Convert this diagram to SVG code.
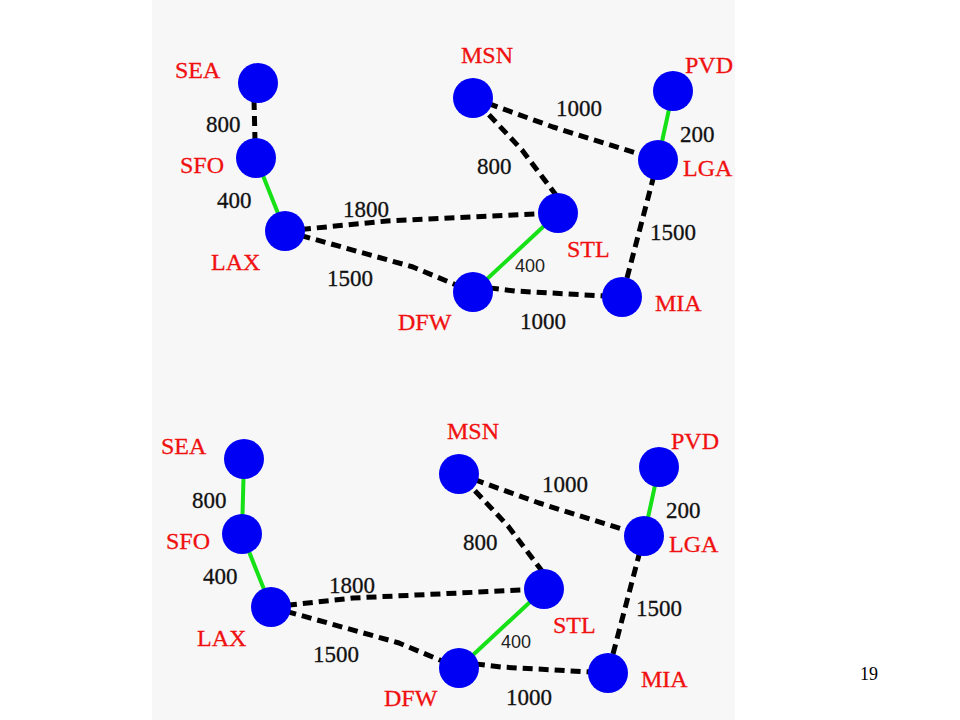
<svg xmlns="http://www.w3.org/2000/svg" width="960" height="720" viewBox="0 0 960 720">
<style>
.dash{fill:none;stroke:#000;stroke-width:5;stroke-dasharray:10 6;stroke-linejoin:round}
.tree{fill:none;stroke:#16e016;stroke-width:4}
.node{fill:#0000f5}
.city{font-family:"Liberation Serif",serif;font-size:24px;fill:#f01010;stroke:#f01010;stroke-width:0.3}
.w{font-family:"Liberation Serif",serif;font-size:23px;fill:#111;stroke:#111;stroke-width:0.3}
.ws{font-family:"Liberation Sans",sans-serif;font-size:18px;fill:#222}
.pg{font-family:"Liberation Serif",serif;font-size:18px;fill:#000}
</style>
<rect x="0" y="0" width="960" height="720" fill="#ffffff"/>
<rect x="152" y="0" width="583" height="720" fill="#f7f7f7"/>

<!-- Top graph -->
<g id="graph1">
<g id="edges1">
<path class="dash" d="M254,100 L255,140"/>
<path class="tree" d="M256,158 L285,231"/>
<path class="dash" d="M285,231 L387,221 L558,213"/>
<path class="dash" d="M285,231 L413,267 L473,292"/>
<path class="dash" d="M473,98 L553,127 L658,160"/>
<path class="dash" d="M478,103 L522,150 L556,195"/>
<path class="tree" d="M673,91 L658,160"/>
<path class="dash" d="M658,160 L622,297"/>
<path class="tree" d="M558,213 L473,292"/>
<path class="dash" d="M473,286 L515,291 L622,297"/>
<text class="w" x="206" y="132">800</text>
<text class="w" x="217" y="208">400</text>
<text class="w" x="343" y="217">1800</text>
<text class="w" x="327" y="286">1500</text>
<text class="w" x="556" y="116">1000</text>
<text class="w" x="477" y="174">800</text>
<text class="w" x="680" y="142">200</text>
<text class="w" x="650" y="240">1500</text>
<text class="ws" x="515" y="272">400</text>
<text class="w" x="520" y="329">1000</text>
</g>
<g id="SEA1"><circle class="node" cx="258" cy="83" r="20"/><text class="city" x="175" y="78">SEA</text></g>
<g id="SFO1"><circle class="node" cx="256" cy="158" r="20"/><text class="city" x="180" y="173">SFO</text></g>
<g id="LAX1"><circle class="node" cx="285" cy="231" r="20"/><text class="city" x="211" y="270">LAX</text></g>
<g id="DFW1"><circle class="node" cx="473" cy="292" r="20"/><text class="city" x="398" y="330">DFW</text></g>
<g id="MSN1"><circle class="node" cx="473" cy="98" r="20"/><text class="city" x="461" y="63">MSN</text></g>
<g id="PVD1"><circle class="node" cx="673" cy="91" r="20"/><text class="city" x="685" y="73">PVD</text></g>
<g id="LGA1"><circle class="node" cx="658" cy="160" r="20"/><text class="city" x="683" y="176">LGA</text></g>
<g id="STL1"><circle class="node" cx="558" cy="213" r="20"/><text class="city" x="567" y="257">STL</text></g>
<g id="MIA1"><circle class="node" cx="622" cy="297" r="20"/><text class="city" x="655" y="311">MIA</text></g>
</g>

<!-- Bottom graph -->
<g id="graph2" transform="translate(-14,376)">
<g id="edges2">
<path class="tree" d="M258,83 L256,158"/>
<path class="tree" d="M256,158 L285,231"/>
<path class="dash" d="M285,231 L367,222 L558,213"/>
<path class="dash" d="M285,231 L413,267 L473,292"/>
<path class="dash" d="M473,98 L553,127 L658,160"/>
<path class="dash" d="M478,103 L522,150 L556,195"/>
<path class="tree" d="M673,91 L658,160"/>
<path class="dash" d="M658,160 L622,297"/>
<path class="tree" d="M558,213 L473,292"/>
<path class="dash" d="M473,286 L515,291 L622,297"/>
<text class="w" x="206" y="132">800</text>
<text class="w" x="217" y="208">400</text>
<text class="w" x="343" y="217">1800</text>
<text class="w" x="327" y="286">1500</text>
<text class="w" x="556" y="116">1000</text>
<text class="w" x="477" y="174">800</text>
<text class="w" x="680" y="142">200</text>
<text class="w" x="650" y="240">1500</text>
<text class="ws" x="515" y="272">400</text>
<text class="w" x="520" y="329">1000</text>
</g>
<g id="SEA2"><circle class="node" cx="258" cy="83" r="20"/><text class="city" x="175" y="78">SEA</text></g>
<g id="SFO2"><circle class="node" cx="256" cy="158" r="20"/><text class="city" x="180" y="173">SFO</text></g>
<g id="LAX2"><circle class="node" cx="285" cy="231" r="20"/><text class="city" x="211" y="270">LAX</text></g>
<g id="DFW2"><circle class="node" cx="473" cy="292" r="20"/><text class="city" x="398" y="330">DFW</text></g>
<g id="MSN2"><circle class="node" cx="473" cy="98" r="20"/><text class="city" x="461" y="63">MSN</text></g>
<g id="PVD2"><circle class="node" cx="673" cy="91" r="20"/><text class="city" x="685" y="73">PVD</text></g>
<g id="LGA2"><circle class="node" cx="658" cy="160" r="20"/><text class="city" x="683" y="176">LGA</text></g>
<g id="STL2"><circle class="node" cx="558" cy="213" r="20"/><text class="city" x="567" y="257">STL</text></g>
<g id="MIA2"><circle class="node" cx="622" cy="297" r="20"/><text class="city" x="655" y="311">MIA</text></g>
</g>

<text class="pg" x="860" y="680">19</text>
</svg>
